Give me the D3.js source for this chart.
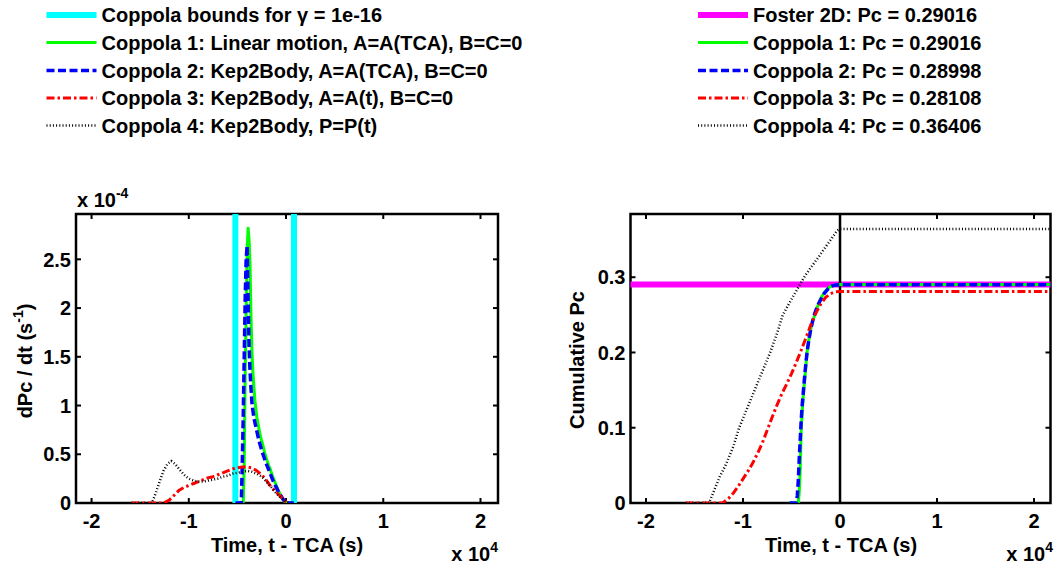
<!DOCTYPE html>
<html><head><meta charset="utf-8">
<script src="https://cdn.jsdelivr.net/npm/d3@7"></script>
<style>
body{margin:0;background:#fff}
text{font-family:Arial,"Liberation Sans",Helvetica,sans-serif;font-weight:bold;fill:#000}
</style>
</head><body>
<svg id="c" width="1054" height="566"></svg>
<script>
// ---------- DATA (time in units of 1e4 s) ----------
const xTicks = [-2, -1, 0, 1, 2];
const yTicksRate = [0, 0.5, 1, 1.5, 2, 2.5];        // x 1e-4 s^-1
const yTicksCum = [0, 0.1, 0.2, 0.3];

const coppolaBounds = [-0.521, 0.082];               // x 1e4 s
const fosterPc = 0.29016;

const legendLeft = [
  "Coppola bounds for \u03b3 = 1e-16",
  "Coppola 1: Linear motion, A=A(TCA), B=C=0",
  "Coppola 2: Kep2Body, A=A(TCA), B=C=0",
  "Coppola 3: Kep2Body, A=A(t), B=C=0",
  "Coppola 4: Kep2Body, P=P(t)"
];
const legendRight = [
  "Foster 2D: Pc = 0.29016",
  "Coppola 1: Pc = 0.29016",
  "Coppola 2: Pc = 0.28998",
  "Coppola 3: Pc = 0.28108",
  "Coppola 4: Pc = 0.36406"
];

// dPc/dt, Coppola 1 (x 1e-4)
const c1Time = [-0.52,-0.44,-0.43,-0.42,-0.41,-0.40,-0.39,-0.38,-0.37,-0.36,-0.35,-0.34,-0.32,-0.30,-0.28,-0.26,-0.24,-0.22,-0.20,-0.18,-0.16,-0.14,-0.12,-0.10,-0.08,-0.06,-0.04,-0.02,0.0,0.08];
const c1Rate = [0,0,0.4,1.3,2.0,2.6,2.82,2.7,2.45,1.9,1.55,1.33,1.05,0.88,0.77,0.67,0.6,0.52,0.45,0.39,0.34,0.28,0.23,0.18,0.13,0.09,0.05,0.02,0,0];
// dPc/dt, Coppola 2
const c2Time = [-0.52,-0.46,-0.45,-0.44,-0.43,-0.42,-0.41,-0.40,-0.39,-0.38,-0.37,-0.36,-0.35,-0.33,-0.31,-0.29,-0.27,-0.25,-0.23,-0.21,-0.19,-0.17,-0.15,-0.13,-0.11,-0.09,-0.07,-0.05,-0.03,-0.01,0.0,0.08];
const c2Rate = [0,0,0.4,0.9,1.5,2.1,2.5,2.64,2.1,1.6,1.35,1.17,1.02,0.87,0.78,0.69,0.61,0.54,0.48,0.42,0.37,0.32,0.27,0.22,0.18,0.14,0.1,0.07,0.04,0.01,0,0];
// dPc/dt, Coppola 3
const c3Time = [-1.59,-1.26,-1.2,-1.15,-1.1,-1.05,-1.0,-0.95,-0.9,-0.85,-0.8,-0.75,-0.7,-0.65,-0.6,-0.55,-0.5,-0.45,-0.4,-0.35,-0.3,-0.25,-0.2,-0.15,-0.1,-0.05,0.0,0.03];
const c3Rate = [0,0,0.03,0.08,0.13,0.16,0.18,0.2,0.22,0.24,0.26,0.27,0.29,0.31,0.33,0.35,0.36,0.37,0.37,0.36,0.33,0.29,0.23,0.16,0.11,0.06,0.01,0];
// dPc/dt, Coppola 4
const c4Time = [-1.59,-1.38,-1.34,-1.3,-1.26,-1.22,-1.18,-1.14,-1.1,-1.05,-1.0,-0.95,-0.9,-0.85,-0.8,-0.75,-0.7,-0.65,-0.6,-0.55,-0.5,-0.45,-0.4,-0.35,-0.3,-0.25,-0.2,-0.15,-0.1,-0.05,0.0,0.03];
const c4Rate = [0,0,0.1,0.22,0.33,0.4,0.43,0.4,0.35,0.29,0.25,0.23,0.22,0.22,0.23,0.24,0.25,0.27,0.28,0.3,0.31,0.32,0.33,0.32,0.3,0.27,0.22,0.16,0.1,0.05,0.01,0];

// Cumulative Pc
const p1Time = [-0.52,-0.43,-0.42,-0.41,-0.40,-0.39,-0.38,-0.37,-0.36,-0.35,-0.34,-0.32,-0.30,-0.28,-0.26,-0.24,-0.22,-0.20,-0.18,-0.16,-0.14,-0.12,-0.10,-0.08,-0.06,-0.04,0.0,2.3];
const p1Cum  = [0,0,0.015,0.045,0.1,0.12,0.14,0.155,0.17,0.185,0.2,0.218,0.232,0.242,0.25,0.258,0.265,0.271,0.276,0.28,0.283,0.2855,0.2875,0.289,0.2895,0.29,0.29016,0.29016];
const p2Time = [-0.52,-0.45,-0.44,-0.43,-0.42,-0.41,-0.40,-0.39,-0.38,-0.37,-0.36,-0.35,-0.34,-0.32,-0.30,-0.28,-0.26,-0.24,-0.22,-0.20,-0.18,-0.16,-0.14,-0.12,-0.10,-0.08,-0.06,-0.04,0.0,2.3];
const p2Cum  = [0,0,0.01,0.03,0.06,0.085,0.11,0.13,0.145,0.16,0.175,0.188,0.2,0.218,0.232,0.243,0.252,0.259,0.265,0.27,0.275,0.279,0.282,0.285,0.287,0.2885,0.2892,0.2896,0.28998,0.28998];
const p3Time = [-1.59,-1.21,-1.15,-1.1,-1.05,-1.0,-0.95,-0.9,-0.85,-0.8,-0.75,-0.7,-0.65,-0.6,-0.55,-0.5,-0.45,-0.4,-0.35,-0.3,-0.25,-0.2,-0.15,-0.1,-0.05,0.0,2.3];
const p3Cum  = [0,0,0.006,0.013,0.022,0.032,0.042,0.053,0.066,0.08,0.097,0.114,0.13,0.145,0.158,0.172,0.187,0.203,0.22,0.237,0.252,0.264,0.273,0.278,0.2805,0.28108,0.28108];
const p4Time = [-1.59,-1.35,-1.3,-1.24,-1.18,-1.1,-1.04,-0.96,-0.88,-0.8,-0.72,-0.65,-0.59,-0.49,-0.37,-0.3,-0.22,-0.15,-0.1,-0.05,-0.03,0.0,2.3];
const p4Cum  = [0,0,0.016,0.035,0.05,0.075,0.1,0.125,0.15,0.175,0.2,0.225,0.25,0.273,0.3,0.313,0.327,0.34,0.349,0.358,0.362,0.36406,0.36406];

// ---------- STYLES ----------
const styles = {
  cyan:  {stroke:"#00ffff", width:6, dash:null},
  mag:   {stroke:"#ff00ff", width:6, dash:null},
  c1:    {stroke:"#00ff00", width:3, dash:null},
  c2:    {stroke:"#0000ff", width:3.5, dash:"8,3.5"},
  c3:    {stroke:"#ff0000", width:3, dash:"8,3,2.5,3"},
  c4:    {stroke:"#000000", width:2.5, dash:"1,2.2"}
};

const svg = d3.select("#c");
const FS = 20;

function zip(a,b){ return a.map((v,i)=>[v,b[i]]); }

function drawAxes(g, x, y, yTicks, id){
  const [x0,x1] = x.range(), [y0,y1] = y.range();
  const tl = 5;
  xTicks.forEach(t=>{
    const px = x(t);
    g.append("line").attr("x1",px).attr("x2",px).attr("y1",y0).attr("y2",y0-tl).attr("stroke","#000").attr("stroke-width",2);
    g.append("line").attr("x1",px).attr("x2",px).attr("y1",y1).attr("y2",y1+tl).attr("stroke","#000").attr("stroke-width",2);
    g.append("text").attr("x",px).attr("y",y0+25).attr("text-anchor","middle").attr("font-size",FS).text(String(t));
  });
  yTicks.forEach(t=>{
    const py = y(t);
    g.append("line").attr("x1",x0).attr("x2",x0+tl).attr("y1",py).attr("y2",py).attr("stroke","#000").attr("stroke-width",2);
    g.append("line").attr("x1",x1).attr("x2",x1-tl).attr("y1",py).attr("y2",py).attr("stroke","#000").attr("stroke-width",2);
    g.append("text").attr("x",x0-5).attr("y",py).attr("dy","0.36em").attr("text-anchor","end").attr("font-size",FS).text(String(t));
  });
  g.append("rect").attr("x",x0).attr("y",y1).attr("width",x1-x0).attr("height",y0-y1)
    .attr("fill","none").attr("stroke","#000").attr("stroke-width",2.5);
  svg.append("clipPath").attr("id",id).append("rect").attr("x",x0).attr("y",y1).attr("width",x1-x0).attr("height",y0-y1);
}

function drawLine(g, x, y, data, st, clip){
  g.append("path").datum(data)
    .attr("d", d3.line().x(d=>x(d[0])).y(d=>y(d[1])))
    .attr("fill","none").attr("stroke",st.stroke).attr("stroke-width",st.width)
    .attr("stroke-dasharray",st.dash).attr("stroke-linejoin","round")
    .attr("clip-path",`url(#${clip})`);
}

// ---------- LEFT PLOT ----------
const xL = d3.scaleLinear().domain([-2.16,2.18]).range([76,498]);
const yL = d3.scaleLinear().domain([0,2.965]).range([503,214]);
const gL = svg.append("g");
drawAxes(gL, xL, yL, yTicksRate, "clipL");
const dL = svg.append("g");
coppolaBounds.forEach(b=>{
  drawLine(dL, xL, yL, [[b,0],[b,2.965]], styles.cyan, "clipL");
});
drawLine(dL, xL, yL, zip(c1Time,c1Rate), styles.c1, "clipL");
drawLine(dL, xL, yL, zip(c2Time,c2Rate), styles.c2, "clipL");
drawLine(dL, xL, yL, zip(c3Time,c3Rate), styles.c3, "clipL");
drawLine(dL, xL, yL, zip(c4Time,c4Rate), styles.c4, "clipL");

svg.append("text").attr("x",287).attr("y",552).attr("text-anchor","middle").attr("font-size",FS).text("Time, t - TCA (s)");
function sciLabel(xp, yp, exp, anchor){
  const t = svg.append("text").attr("x",xp).attr("y",yp).attr("font-size",FS).attr("text-anchor",anchor||"start");
  t.append("tspan").text("x 10");
  t.append("tspan").attr("dy",-9).attr("font-size",14).text(exp);
}
sciLabel(498, 561, "4", "end");
sciLabel(77, 207, "-4", "start");
{
  const t = svg.append("text").attr("transform","translate(32,361) rotate(-90)").attr("text-anchor","middle").attr("font-size",FS);
  t.append("tspan").text("dPc / dt (s");
  t.append("tspan").attr("dy",-9).attr("font-size",14).text("-1");
  t.append("tspan").attr("dy",9).text(")");
}

// ---------- RIGHT PLOT ----------
const xR = d3.scaleLinear().domain([-2.16,2.17]).range([630.5,1050.5]);
const yR = d3.scaleLinear().domain([0,0.384]).range([503,214]);
const gR = svg.append("g");
drawAxes(gR, xR, yR, yTicksCum, "clipR");
const dR = svg.append("g");
drawLine(dR, xR, yR, [[-2.3,fosterPc],[2.3,fosterPc]], styles.mag, "clipR");
drawLine(dR, xR, yR, [[0,0],[0,0.384]], {stroke:"#000",width:2.5,dash:null}, "clipR");
drawLine(dR, xR, yR, zip(p1Time,p1Cum), styles.c1, "clipR");
drawLine(dR, xR, yR, zip(p2Time,p2Cum), styles.c2, "clipR");
drawLine(dR, xR, yR, zip(p3Time,p3Cum), styles.c3, "clipR");
drawLine(dR, xR, yR, zip(p4Time,p4Cum), styles.c4, "clipR");

svg.append("text").attr("x",841).attr("y",552).attr("text-anchor","middle").attr("font-size",FS).text("Time, t - TCA (s)");
sciLabel(1053, 561, "4", "end");
svg.append("text").attr("transform","translate(584,360) rotate(-90)").attr("text-anchor","middle").attr("font-size",FS).text("Cumulative Pc");

// ---------- LEGENDS ----------
const rowsY = [15, 42.5, 70.5, 98, 125.5];
function legend(x0, labels, sts){
  labels.forEach((lab,i)=>{
    const yy = rowsY[i];
    const st = sts[i];
    svg.append("line").attr("x1",x0).attr("x2",x0+50).attr("y1",yy).attr("y2",yy)
      .attr("stroke",st.stroke).attr("stroke-width",st.width).attr("stroke-dasharray",st.dash);
    svg.append("text").attr("x",x0+55).attr("y",yy).attr("dy","0.36em").attr("font-size",FS).text(lab);
  });
}
legend(46.5, legendLeft, [styles.cyan, styles.c1, styles.c2, styles.c3, styles.c4]);
legend(698, legendRight, [styles.mag, styles.c1, styles.c2, styles.c3, styles.c4]);
</script>
</body></html>
